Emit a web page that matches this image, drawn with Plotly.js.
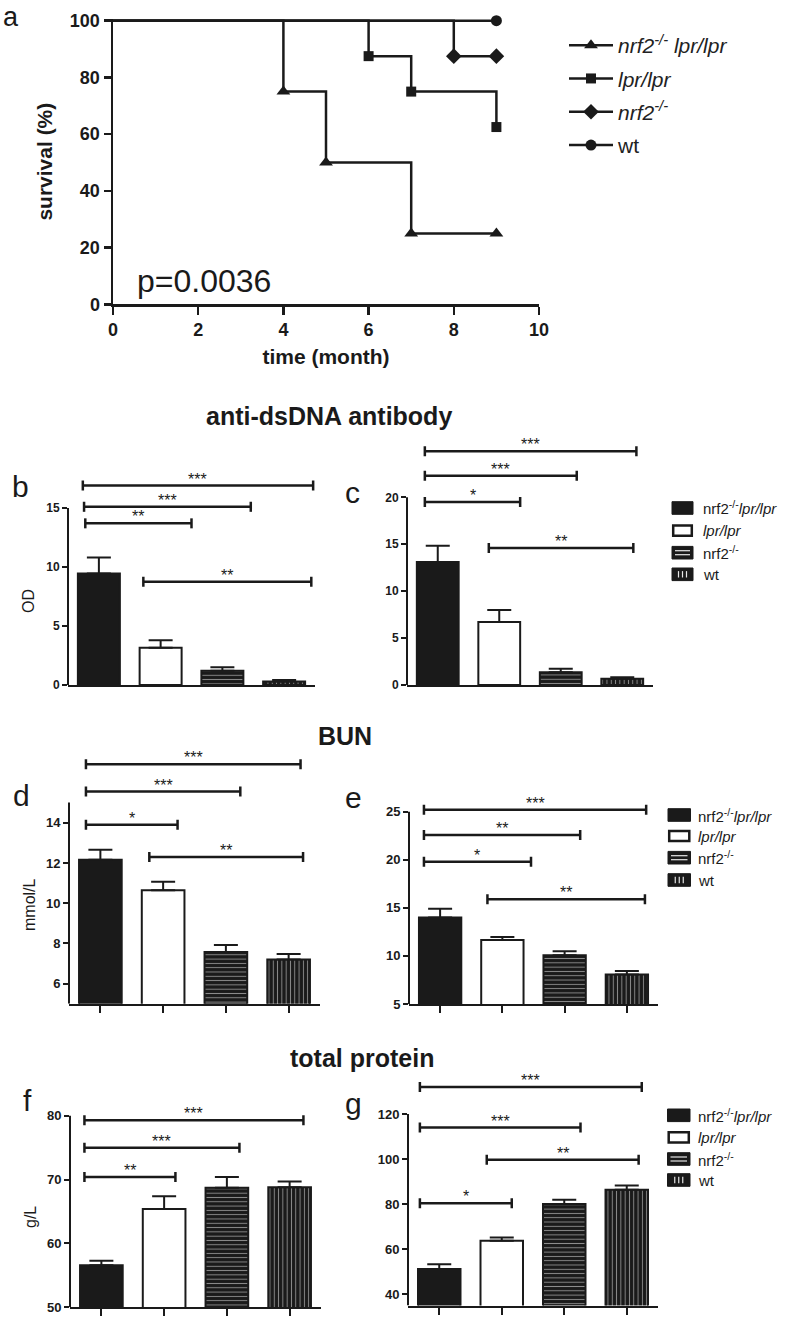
<!DOCTYPE html>
<html>
<head>
<meta charset="utf-8">
<script src="https://cdn.plot.ly/plotly-3.0.1.min.js"></script>
<style>
html,body{margin:0;padding:0;background:#ffffff;}
#chart{width:787px;height:1320px;}
</style>
</head>
<body>
<div id="chart"></div>
<script>
// ================= DATA =================
// Panel a: Kaplan-Meier survival
const survLegendNames = ['<i>nrf2<sup>-/-</sup> lpr/lpr</i>', '<i>lpr/lpr</i>', '<i>nrf2<sup>-/-</sup></i>', 'wt'];
const survTime_nrf2lpr = [0, 4, 5, 7, 9];
const survPct_nrf2lpr  = [100, 75, 50, 25, 25];
const survTime_lpr     = [0, 6, 7, 9];
const survPct_lpr      = [100, 87.5, 75, 62.5];
const survTime_nrf2    = [0, 8, 9];
const survPct_nrf2     = [100, 87.5, 87.5];
const survTime_wt      = [0, 9];
const survPct_wt       = [100, 100];
const survXTicks = [0, 2, 4, 6, 8, 10];
const survYTicks = [0, 20, 40, 60, 80, 100];
const pValueText = 'p=0.0036';

// Bar panels: groups
const barGroups = ['nrf2-/-lpr/lpr', 'lpr/lpr', 'nrf2-/-', 'wt'];
const barLegendText = ['nrf2<sup>-/-</sup><i>lpr/lpr</i>', '<i>lpr/lpr</i>', 'nrf2<sup>-/-</sup>', 'wt'];

// b, c: anti-dsDNA antibody (OD)
const dsdnaB_mean = [9.45, 3.15, 1.2, 0.3];
const dsdnaB_sem  = [1.35, 0.65, 0.3, 0.12];
const dsdnaC_mean = [13.1, 6.7, 1.35, 0.67];
const dsdnaC_sem  = [1.75, 1.3, 0.39, 0.15];
// d, e: BUN (mmol/L)
const bunD_mean = [12.16, 10.64, 7.57, 7.2];
const bunD_sem  = [0.49, 0.43, 0.35, 0.27];
const bunE_mean = [14.0, 11.65, 10.06, 8.08];
const bunE_sem  = [0.9, 0.31, 0.42, 0.35];
// f, g: total protein (g/L)
const tpF_mean = [56.6, 65.4, 68.7, 68.8];
const tpF_sem  = [0.7, 2.0, 1.7, 0.9];
const tpG_mean = [51.2, 63.8, 80.1, 86.4];
const tpG_sem  = [2.1, 1.4, 1.8, 1.9];

// significance brackets: [from (group index), to (group index), height (data units), label]
const sigB = [[-0.26, 3.47, 16.9, '***'], [-0.24, 2.46, 15.1, '***'], [-0.22, 1.5, 13.7, '**'], [0.72, 3.44, 8.75, '**']];
const sigC = [[-0.21, 3.23, 24.9, '***'], [-0.21, 2.26, 22.3, '***'], [-0.21, 1.34, 19.5, '*'], [0.83, 3.18, 14.6, '**']];
const sigD = [[-0.23, 3.19, 16.9, '***'], [-0.23, 2.23, 15.55, '***'], [-0.23, 1.23, 13.9, '*'], [0.78, 3.23, 12.29, '**']];
const sigE = [[-0.26, 3.31, 25.2, '***'], [-0.26, 2.25, 22.57, '**'], [-0.26, 1.46, 19.8, '*'], [0.76, 3.29, 15.9, '**']];
const sigF = [[-0.27, 3.22, 79.3, '***'], [-0.27, 2.2, 75.0, '***'], [-0.27, 1.18, 70.4, '**']];
const sigG = [[-0.31, 3.24, 132, '***'], [-0.31, 2.26, 114, '***'], [0.76, 3.19, 99.7, '**'], [-0.31, 1.16, 80.4, '*']];

const ticksB = [0, 5, 10, 15];
const ticksC = [0, 5, 10, 15, 20];
const ticksD = [6, 8, 10, 12, 14];
const ticksE = [5, 10, 15, 20, 25];
const ticksF = [50, 60, 70, 80];
const ticksG = [40, 60, 80, 100, 120];

// ================= LAYOUT HELPERS =================
const W = 787, H = 1320;
const FONT = 'Liberation Sans, Arial, Helvetica, sans-serif';
const INK = '#1a1a1a';
const STRIPE = '#d6d6d6';
const fx = p => p / W;
const fy = p => 1 - p / H;

const traces = [];
const shapes = [];
const annotations = [];
const layout = {
  width: W, height: H,
  margin: {l: 0, r: 0, t: 0, b: 0},
  paper_bgcolor: '#ffffff', plot_bgcolor: 'rgba(0,0,0,0)',
  font: {family: FONT, color: INK},
  showlegend: true,
  hovermode: false
};

// ---------- Panel a ----------
const aY0 = 304.3, aY100 = 20.7;
const aPx = (aY0 - aY100) / 100;
const aTop = 100.6;
layout.xaxis = {
  domain: [fx(113), fx(539)], range: [0, 10], anchor: 'y',
  tickvals: survXTicks, ticks: 'outside', ticklen: 8, tickwidth: 2.5, tickcolor: INK,
  showline: true, linewidth: 2.5, linecolor: INK, showgrid: false, zeroline: false,
  tickfont: {size: 18, weight: 'bold', family: FONT, color: INK},
  title: {text: 'time (month)', font: {size: 21, weight: 'bold', family: FONT, color: INK}, standoff: 10},
  fixedrange: true
};
layout.yaxis = {
  domain: [fy(aY0), fy(aY0 - aTop * aPx)], range: [0, aTop], anchor: 'x',
  tickvals: survYTicks, ticks: 'outside', ticklen: 7, tickwidth: 2.5, tickcolor: INK,
  showline: true, linewidth: 2.5, linecolor: INK, showgrid: false, zeroline: false,
  tickfont: {size: 18, weight: 'bold', family: FONT, color: INK},
  title: {text: 'survival (%)', font: {size: 21, weight: 'bold', family: FONT, color: INK}, standoff: 12},
  fixedrange: true
};

const survSets = [
  {t: survTime_nrf2lpr, s: survPct_nrf2lpr, sym: 'triangle-up', size: 12},
  {t: survTime_lpr,     s: survPct_lpr,     sym: 'square',      size: 10},
  {t: survTime_nrf2,    s: survPct_nrf2,    sym: 'diamond',     size: 12},
  {t: survTime_wt,      s: survPct_wt,      sym: 'circle',      size: 11}
];
survSets.forEach((g, i) => {
  traces.push({type: 'scatter', mode: 'lines', x: g.t, y: g.s, xaxis: 'x', yaxis: 'y',
    line: {shape: 'hv', color: INK, width: 2.5}, showlegend: false});
  traces.push({type: 'scatter', mode: 'markers', x: g.t.slice(1), y: g.s.slice(1), xaxis: 'x', yaxis: 'y',
    marker: {symbol: g.sym, size: g.size, color: INK}, cliponaxis: false, showlegend: false});
  traces.push({type: 'scatter', mode: 'lines+markers', x: [null], y: [null], xaxis: 'x', yaxis: 'y',
    name: survLegendNames[i], legendgroup: 'g' + i,
    line: {color: INK, width: 2.5}, marker: {symbol: g.sym, size: g.size, color: INK}});
});
layout.legend = {
  x: fx(564), y: fy(25), xanchor: 'left', yanchor: 'top',
  font: {size: 21, family: FONT, color: '#222'},
  itemwidth: 44, tracegroupgap: 3, bgcolor: 'rgba(0,0,0,0)', borderwidth: 0,
  traceorder: 'grouped', itemclick: false, itemdoubleclick: false
};
annotations.push({xref: 'paper', yref: 'paper', x: fx(135), y: fy(281), xanchor: 'left', yanchor: 'middle',
  text: pValueText, showarrow: false, font: {size: 32, family: FONT, color: INK}});

// ---------- Bar panels ----------
const xIdx = barGroups.map((_, i) => i);
const barPanels = [
  {id: 2, mean: dsdnaB_mean, sem: dsdnaB_sem, sig: sigB, ticks: ticksB, xd: [68, 315],  cal: [0, 685, 15, 508],      range: [0, 18.5], spine: 15,  xt: false, ts: 12},
  {id: 3, mean: dsdnaC_mean, sem: dsdnaC_sem, sig: sigC, ticks: ticksC, xd: [407, 653], cal: [0, 685, 20, 497.3],    range: [0, 26.5], spine: 20,  xt: false, ts: 12},
  {id: 4, mean: bunD_mean,   sem: bunD_sem,   sig: sigD, ticks: ticksD, xd: [69, 320],  cal: [6, 983.7, 14, 822.7],  range: [5, 17.8], spine: 15,  xt: true,  ts: 13},
  {id: 5, mean: bunE_mean,   sem: bunE_sem,   sig: sigE, ticks: ticksE, xd: [409, 658], cal: [5, 1004, 25, 811.7],   range: [5, 26.5], spine: 25,  xt: true,  ts: 13},
  {id: 6, mean: tpF_mean,    sem: tpF_sem,    sig: sigF, ticks: ticksF, xd: [70, 321],  cal: [50, 1307.3, 80, 1115.7], range: [50, 81], spine: 80, xt: true, ts: 13},
  {id: 7, mean: tpG_mean,    sem: tpG_sem,    sig: sigG, ticks: ticksG, xd: [408, 658], cal: [40, 1294.3, 120, 1114], range: [35, 136], spine: 120, xt: true, ts: 13}
];

barPanels.forEach(p => {
  const c = p.cal;
  const yPx = v => c[1] + (v - c[0]) * (c[3] - c[1]) / (c[2] - c[0]);
  const xa = 'x' + p.id, ya = 'y' + p.id;
  layout['xaxis' + p.id] = {
    domain: [fx(p.xd[0]), fx(p.xd[1])], range: [-0.5, 3.5], anchor: ya,
    showline: true, linewidth: 2, linecolor: INK,
    tickvals: xIdx, showticklabels: false,
    ticks: p.xt ? 'outside' : '', ticklen: 7, tickwidth: 2, tickcolor: INK,
    showgrid: false, zeroline: false, fixedrange: true
  };
  layout['yaxis' + p.id] = {
    domain: [fy(yPx(p.range[0])), fy(yPx(p.range[1]))], range: p.range, anchor: xa,
    showline: false, tickvals: p.ticks, ticks: 'outside', ticklen: 5, tickwidth: 2, tickcolor: INK,
    tickfont: {size: p.ts, weight: 'bold', family: FONT, color: INK},
    showgrid: false, zeroline: false, fixedrange: true
  };
  // visible y spine from axis bottom up to last labelled tick
  shapes.push({type: 'line', xref: xa + ' domain', yref: ya, x0: 0, x1: 0, y0: p.range[0], y1: p.spine,
    line: {color: INK, width: 2}});
  traces.push({
    type: 'bar', x: xIdx, y: p.mean, width: 0.68, xaxis: xa, yaxis: ya, showlegend: false,
    marker: {
      color: [INK, '#ffffff', INK, INK],
      line: {color: INK, width: 2},
      pattern: {shape: ['', '', '-', '|'], fgcolor: STRIPE, size: 4.3, solidity: 0.22, fillmode: 'overlay'}
    },
    error_y: {type: 'data', symmetric: false, array: p.sem, arrayminus: p.sem.map(() => 0),
      color: INK, thickness: 2, width: 12}
  });
  p.sig.forEach(([a, b, yv, lab]) => {
    shapes.push({type: 'line', xref: xa, yref: ya, x0: a, x1: b, y0: yv, y1: yv, line: {color: INK, width: 2.5}});
    [a, b].forEach(xx => shapes.push({type: 'line', xref: xa, yref: ya, x0: xx, x1: xx,
      ysizemode: 'pixel', yanchor: yv, y0: -5, y1: 5, line: {color: INK, width: 2.5}}));
    annotations.push({xref: xa, yref: ya, x: (a + b) / 2, y: yv, text: lab, showarrow: false,
      xanchor: 'center', yanchor: 'bottom', yshift: -4, font: {size: 16, family: FONT, color: INK}});
  });
});

// ---------- Bar legends (c, e, g) ----------
const legendSpots = [
  {x0: 672, x1: 693, rows: [508, 530.7, 552.7, 574.3], tx: 701},
  {x0: 668, x1: 690.5, rows: [815, 836, 857.7, 880], tx: 696},
  {x0: 667.5, x1: 690, rows: [1115.3, 1137.3, 1159, 1180], tx: 696}
];
legendSpots.forEach(L => {
  L.rows.forEach((r, k) => {
    const h = 6.3;
    const pr = (x0, y0, x1, y1) => ({x0: fx(x0), x1: fx(x1), y0: fy(y0), y1: fy(y1)});
    if (k === 1) {
      shapes.push(Object.assign({type: 'rect', xref: 'paper', yref: 'paper', fillcolor: '#ffffff',
        line: {color: INK, width: 2.5}}, pr(L.x0 + 1.2, r - h + 1.2, L.x1 - 1.2, r + h - 1.2)));
    } else {
      shapes.push(Object.assign({type: 'rect', xref: 'paper', yref: 'paper', fillcolor: INK,
        line: {color: INK, width: 1}}, pr(L.x0, r - h, L.x1, r + h)));
    }
    if (k === 2) {
      [-2, 2].forEach(d => shapes.push(Object.assign({type: 'line', xref: 'paper', yref: 'paper',
        line: {color: '#e6e6e6', width: 1.2}}, pr(L.x0 + 3, r + d, L.x1 - 3, r + d))));
    }
    if (k === 3) {
      const cx = (L.x0 + L.x1) / 2;
      [-4, 0, 4].forEach(d => shapes.push(Object.assign({type: 'line', xref: 'paper', yref: 'paper',
        line: {color: '#e6e6e6', width: 1.2}}, pr(cx + d, r - 3.2, cx + d, r + 3.2))));
    }
    annotations.push({xref: 'paper', yref: 'paper', x: fx(L.tx), y: fy(r), xanchor: 'left', yanchor: 'middle',
      text: barLegendText[k], showarrow: false, font: {size: 15, family: FONT, color: INK}});
  });
});

// ---------- Titles, panel letters, axis titles ----------
const titleFont = {size: 25, weight: 'bold', family: FONT, color: INK};
[['anti-dsDNA antibody', 329, 416], ['BUN', 345, 736], ['total protein', 362, 1058]].forEach(([t, x, y]) =>
  annotations.push({xref: 'paper', yref: 'paper', x: fx(x), y: fy(y), xanchor: 'center', yanchor: 'middle',
    text: t, showarrow: false, font: titleFont}));

// panel letter a sits at the very top edge: anchor its box to the top of the page
annotations.push({xref: 'paper', yref: 'paper', x: fx(11), y: 1, xanchor: 'center', yanchor: 'top',
  text: 'a', showarrow: false, font: {size: 27, family: FONT, color: INK}});
[['b', 20, 486], ['c', 352, 492], ['d', 21, 795], ['e', 353, 797], ['f', 27, 1100], ['g', 353, 1103]].forEach(([t, x, y]) =>
  annotations.push({xref: 'paper', yref: 'paper', x: fx(x), y: fy(y), xanchor: 'center', yanchor: 'middle',
    text: t, showarrow: false, font: {size: 30, family: FONT, color: INK}}));

[['OD', 28, 601], ['mmol/L', 30, 905], ['g/L', 30, 1217]].forEach(([t, x, y]) =>
  annotations.push({xref: 'paper', yref: 'paper', x: fx(x), y: fy(y), xanchor: 'center', yanchor: 'middle',
    text: t, textangle: -90, showarrow: false, font: {size: 16, family: FONT, color: INK}}));

layout.shapes = shapes;
layout.annotations = annotations;

Plotly.newPlot('chart', traces, layout, {staticPlot: true, displayModeBar: false});
</script>
</body>
</html>
